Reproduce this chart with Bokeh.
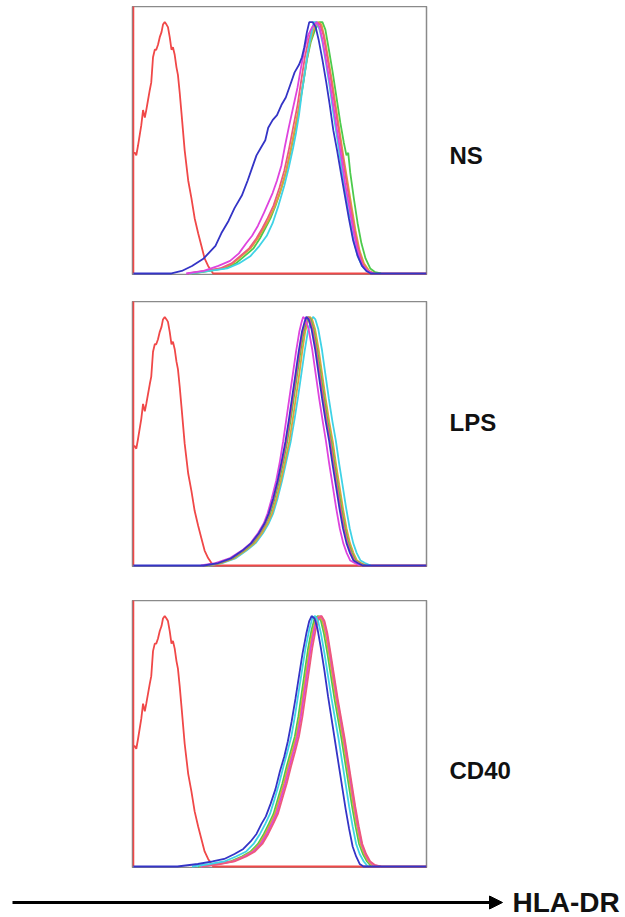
from bokeh.plotting import figure
from bokeh.layouts import column, row
from bokeh.models import Spacer, Range1d, Arrow, NormalHead, Label
from bokeh.embed import file_html
from bokeh.resources import INLINE

# ---- data: HLA-DR fluorescence histograms (x = channel 0-1000, y = % of mode) ----
ISOTYPE = [(0, 0), (0, 108), (0, 48), (5, 48), (10, 47), (16, 51), (27, 59), (33, 65), (39, 62), (44, 65),
           (50, 69), (56, 73), (61, 76), (67, 86), (73, 89), (78, 89), (84, 91), (90, 94), (96, 96),
           (101, 99), (107, 100), (113, 99), (118, 98), (124, 94), (130, 89), (135, 90), (141, 87),
           (147, 82), (152, 79), (158, 72), (164, 64), (175, 49), (187, 37), (198, 30), (209, 22),
           (221, 16), (232, 11), (243, 6), (255, 3), (272, 0), (1000, 0)]

NS_BLUE = [(0, 0), (130, 0), (165, 1), (200, 3), (240, 6), (280, 11), (300, 16), (325, 21), (345, 26),
           (370, 31), (390, 37), (405, 42), (420, 47), (435, 50), (450, 53), (460, 58), (475, 61),
           (490, 63), (505, 67), (520, 70), (535, 75), (550, 80), (565, 83), (575, 86), (583, 90),
           (592, 96), (600, 100), (612, 100), (622, 98), (632, 93), (645, 85), (658, 76), (670, 67),
           (682, 57), (695, 49), (708, 40), (720, 32), (735, 22), (750, 13), (765, 7), (780, 3),
           (795, 1), (810, 0), (1000, 0)]
NS_CYAN = [(190, 0), (260, 1), (320, 2), (360, 4), (400, 7), (430, 11), (455, 15), (475, 20), (495, 27),
           (515, 35), (530, 42), (545, 50), (555, 56), (565, 63), (575, 72), (585, 80), (595, 88),
           (605, 94), (615, 100), (625, 100), (635, 97), (645, 92), (658, 83), (670, 74), (682, 64),
           (695, 54), (708, 44), (720, 34), (735, 24), (750, 14), (765, 7), (780, 3), (795, 1), (815, 0)]
NS_MAGENTA = [(180, 0), (240, 1), (290, 3), (330, 5), (360, 8), (385, 12), (405, 15), (425, 19),
              (445, 24), (460, 28), (475, 32), (490, 37), (505, 43), (516, 50), (530, 58), (545, 66),
              (560, 74), (572, 82), (585, 90), (597, 95), (610, 98), (625, 100), (635, 98), (645, 93),
              (657, 85), (670, 76), (683, 66), (696, 56), (710, 46), (722, 36), (737, 26), (752, 16),
              (767, 8), (782, 3), (800, 1), (820, 0)]
NS_ORANGE = [(190, 0), (250, 1), (300, 2), (340, 4), (370, 7), (400, 10), (425, 14), (445, 18), (460, 21),
             (480, 26), (500, 32), (520, 40), (535, 48), (550, 57), (565, 66), (578, 75), (590, 84),
             (603, 92), (615, 97), (630, 100), (642, 99), (652, 94), (664, 86), (677, 77), (690, 67),
             (703, 57), (716, 47), (730, 37), (744, 27), (758, 17), (772, 9), (787, 4), (805, 1), (825, 0)]
NS_GREEN = [(200, 0), (260, 1), (310, 2), (350, 4), (380, 7), (410, 10), (432, 14), (450, 18), (468, 22),
            (485, 27), (505, 34), (522, 41), (539, 50), (553, 58), (567, 67), (580, 76), (592, 85),
            (605, 92), (620, 97), (635, 100), (645, 100), (655, 97), (667, 89), (680, 80), (693, 70),
            (706, 60), (718, 52), (727, 47), (733, 48), (740, 40), (752, 30), (765, 20), (778, 12),
            (792, 6), (808, 2), (825, 0.5), (845, 0)]
NS_PINK = [(185, 0), (245, 1), (295, 2), (335, 4), (365, 7), (395, 10), (420, 14), (440, 18), (458, 22),
           (478, 27), (498, 34), (515, 41), (530, 49), (545, 58), (560, 67), (573, 77), (585, 86),
           (598, 93), (612, 98), (625, 100), (637, 99), (648, 95), (660, 87), (673, 78), (686, 68),
           (699, 58), (712, 48), (725, 38), (739, 28), (753, 18), (767, 10), (782, 4), (800, 1), (820, 0)]

LPS_MAGENTA = [(230, 0), (280, 1), (330, 3), (370, 6), (400, 9), (425, 13), (445, 17), (458, 21), (472, 27),
               (487, 34), (500, 42), (511, 50), (522, 59), (533, 68), (544, 77), (555, 86), (566, 94),
               (574, 98), (579, 100), (588, 99), (598, 95), (610, 87), (622, 77), (634, 67), (646, 58),
               (657, 50), (668, 41), (680, 32), (692, 23), (704, 15), (716, 9), (728, 5), (740, 2),
               (755, 1), (772, 0)]
LPS_BLUE = [(0, 0), (240, 0), (290, 1), (335, 3), (372, 6), (402, 9), (428, 13), (448, 17), (462, 21),
            (477, 27), (492, 34), (506, 42), (519, 50), (531, 59), (542, 68), (553, 77), (564, 86),
            (575, 94), (584, 98), (590, 100), (598, 99), (608, 95), (620, 87), (632, 77), (644, 67),
            (656, 58), (668, 50), (679, 41), (691, 32), (703, 23), (715, 15), (727, 9), (739, 5),
            (751, 2), (765, 1), (782, 0), (1000, 0)]
LPS_GREEN = [(245, 0), (295, 1), (340, 3), (377, 6), (407, 9), (432, 13), (452, 17), (467, 21), (482, 27),
             (497, 34), (512, 42), (525, 50), (537, 59), (548, 68), (559, 77), (570, 86), (581, 94),
             (590, 98), (597, 100), (605, 99), (615, 95), (627, 87), (639, 77), (651, 67), (663, 58),
             (675, 50), (686, 41), (698, 32), (710, 23), (722, 15), (734, 9), (746, 5), (758, 2),
             (772, 1), (790, 0)]
LPS_ORANGE = [(250, 0), (300, 1), (345, 3), (382, 6), (413, 9), (438, 13), (458, 17), (473, 21), (488, 27),
              (503, 34), (518, 42), (532, 50), (544, 59), (555, 68), (566, 77), (576, 86), (586, 94),
              (595, 98), (602, 100), (610, 99), (620, 95), (632, 87), (644, 77), (656, 67), (668, 58),
              (680, 50), (691, 41), (703, 32), (715, 23), (727, 15), (739, 9), (751, 5), (763, 2),
              (777, 1), (795, 0)]
LPS_CYAN = [(255, 0), (305, 1), (350, 3), (386, 6), (417, 9), (442, 13), (462, 17), (477, 21), (492, 27),
            (507, 34), (522, 42), (537, 50), (550, 59), (562, 68), (573, 77), (584, 86), (595, 94),
            (605, 98), (613, 100), (621, 99), (631, 95), (643, 87), (655, 77), (667, 67), (679, 58),
            (691, 50), (702, 41), (714, 32), (726, 23), (738, 15), (750, 9), (762, 5), (775, 2),
            (790, 1), (810, 0)]
LPS_PINK = [(242, 0), (292, 1), (337, 3), (374, 6), (404, 9), (430, 13), (450, 17), (464, 21), (479, 27),
            (494, 34), (509, 42), (522, 50), (534, 59), (545, 68), (556, 77), (567, 86), (578, 94),
            (587, 98), (594, 100), (602, 99), (612, 95), (624, 87), (636, 77), (648, 67), (660, 58),
            (672, 50), (683, 41), (695, 32), (707, 23), (719, 15), (731, 9), (743, 5), (755, 2),
            (769, 1), (786, 0)]

CD40_BLUE = [(0, 0), (150, 0), (220, 1), (270, 2), (310, 3), (345, 5), (375, 7), (400, 10), (420, 13),
             (437, 17), (452, 20), (468, 25), (485, 31), (500, 38), (515, 44), (527, 50), (540, 58),
             (553, 67), (565, 76), (577, 85), (590, 93), (600, 98), (608, 100), (618, 99), (628, 95),
             (640, 87), (652, 78), (664, 68), (676, 59), (688, 50), (700, 41), (712, 32), (724, 23),
             (736, 15), (748, 8), (760, 4), (772, 1), (785, 0), (1000, 0)]
CD40_CYAN = [(200, 0), (260, 1), (310, 2), (350, 4), (385, 6), (410, 9), (432, 13), (450, 17), (466, 21),
             (482, 27), (497, 33), (512, 40), (526, 46), (539, 52), (551, 60), (563, 69), (575, 78),
             (587, 87), (599, 94), (610, 99), (620, 100), (630, 98), (640, 93), (652, 85), (664, 76),
             (676, 67), (688, 59), (700, 51), (712, 42), (724, 33), (736, 24), (748, 16), (760, 9),
             (772, 5), (786, 2), (800, 0)]
CD40_GREEN = [(220, 0), (280, 1), (330, 2), (370, 4), (400, 6), (425, 9), (445, 13), (462, 17), (478, 21),
              (493, 27), (508, 33), (523, 40), (537, 46), (551, 52), (563, 60), (574, 69), (585, 78),
              (596, 87), (607, 94), (618, 99), (630, 100), (640, 98), (650, 93), (662, 85), (674, 76),
              (686, 67), (698, 59), (710, 51), (722, 42), (734, 33), (746, 24), (758, 16), (770, 9),
              (783, 5), (797, 2), (812, 0)]
CD40_ORANGE = [(225, 0), (285, 1), (335, 2), (375, 4), (405, 6), (430, 9), (450, 13), (467, 17), (483, 21),
               (498, 27), (513, 33), (528, 40), (542, 46), (556, 52), (568, 60), (579, 69), (590, 78),
               (601, 87), (612, 94), (623, 99), (635, 100), (645, 98), (655, 93), (667, 85), (679, 76),
               (691, 67), (703, 59), (715, 51), (727, 42), (739, 33), (751, 24), (763, 16), (775, 9),
               (788, 5), (802, 2), (818, 0)]
CD40_MAGENTA = [(230, 0), (290, 1), (340, 2), (380, 4), (410, 6), (435, 9), (455, 13), (472, 17), (488, 21),
                (503, 27), (518, 33), (533, 40), (547, 46), (560, 52), (572, 60), (583, 69), (594, 78),
                (605, 87), (616, 94), (627, 99), (640, 100), (650, 98), (660, 93), (671, 85), (683, 76),
                (695, 67), (707, 59), (719, 51), (731, 42), (743, 33), (755, 24), (767, 16), (779, 9),
                (792, 5), (806, 2), (822, 0.5), (840, 0)]
CD40_PINK = [(235, 0), (295, 1), (345, 2), (385, 4), (415, 6), (440, 9), (460, 13), (477, 17), (493, 21),
             (508, 27), (523, 33), (538, 40), (552, 46), (565, 52), (577, 60), (588, 69), (599, 78),
             (610, 87), (621, 94), (632, 99), (642, 100), (652, 98), (662, 93), (673, 85), (685, 76),
             (697, 67), (709, 59), (721, 51), (733, 42), (745, 33), (757, 24), (769, 16), (781, 9),
             (794, 5), (808, 2), (825, 0.5), (845, 0)]

CONDITIONS = ["NS", "LPS", "CD40"]
AXIS_LABEL = "HLA-DR"

# ---- styles ----
COLORS = {"red": "#F04848", "green": "#4CCB4C", "orange": "#DDA23A", "pink": "#EE5A7C",
          "cyan": "#3FD3E6", "magenta": "#DE44DE", "blue": "#3434C6"}
FONT = "Liberation Sans"


def panel(series, h):
    p = figure(width=428, height=h, x_range=Range1d(-3, 1000), y_range=Range1d(-0.8, 106.2),
               output_backend="svg", toolbar_location=None,
               min_border_left=132, min_border_right=2, min_border_top=0, min_border_bottom=0,
               x_axis_location=None, y_axis_location=None)
    p.grid.visible = False
    p.outline_line_color = "#8a8a8a"
    p.outline_line_width = 1.5
    p.background_fill_color = "white"
    p.border_fill_color = "white"
    for pts, cname in series:
        p.line([a for a, b in pts], [b for a, b in pts], line_color=COLORS[cname], line_width=1.8)
    return p


def label_fig(text, h, y):
    f = figure(width=189, height=h, x_range=Range1d(0, 189), y_range=Range1d(0, h),
               output_backend="svg", toolbar_location=None,
               min_border=0, x_axis_location=None, y_axis_location=None)
    f.grid.visible = False
    f.outline_line_color = None
    f.add_layout(Label(x=21, y=y, text=text, text_font=FONT, text_font_style="bold",
                       text_font_size="24px", text_baseline="middle", text_color="#111111"))
    return f


p1 = panel([(ISOTYPE, "red"), (NS_GREEN, "green"), (NS_ORANGE, "orange"), (NS_PINK, "pink"),
            (NS_CYAN, "cyan"), (NS_MAGENTA, "magenta"), (NS_BLUE, "blue")], 269)
p2 = panel([(ISOTYPE, "red"), (LPS_CYAN, "cyan"), (LPS_ORANGE, "orange"), (LPS_GREEN, "green"),
            (LPS_PINK, "pink"), (LPS_MAGENTA, "magenta"), (LPS_BLUE, "blue")], 266)
p3 = panel([(ISOTYPE, "red"), (CD40_GREEN, "green"), (CD40_ORANGE, "orange"), (CD40_MAGENTA, "magenta"),
            (CD40_PINK, "pink"), (CD40_CYAN, "cyan"), (CD40_BLUE, "blue")], 268)

l1 = label_fig(CONDITIONS[0], 269, 120)
l2 = label_fig(CONDITIONS[1], 266, 145)
l3 = label_fig(CONDITIONS[2], 268, 98)

a = figure(width=625, height=49, x_range=Range1d(0, 625), y_range=Range1d(0, 49),
           output_backend="svg", toolbar_location=None, min_border=0,
           x_axis_location=None, y_axis_location=None)
a.grid.visible = False
a.outline_line_color = None
a.add_layout(Arrow(x_start=12, y_start=15, x_end=502, y_end=15, line_width=3, line_color="black",
                   end=NormalHead(size=13, fill_color="black", line_color="black", line_width=1)))
a.add_layout(Label(x=512, y=15, text=AXIS_LABEL, text_font=FONT, text_font_style="bold",
                   text_font_size="28px", text_baseline="middle", text_color="#111111"))

layout = column(Spacer(height=6), row(p1, l1), Spacer(height=26), row(p2, l2), Spacer(height=33),
                row(p3, l3), a)

open("out.html", "w").write(file_html(layout, INLINE))
